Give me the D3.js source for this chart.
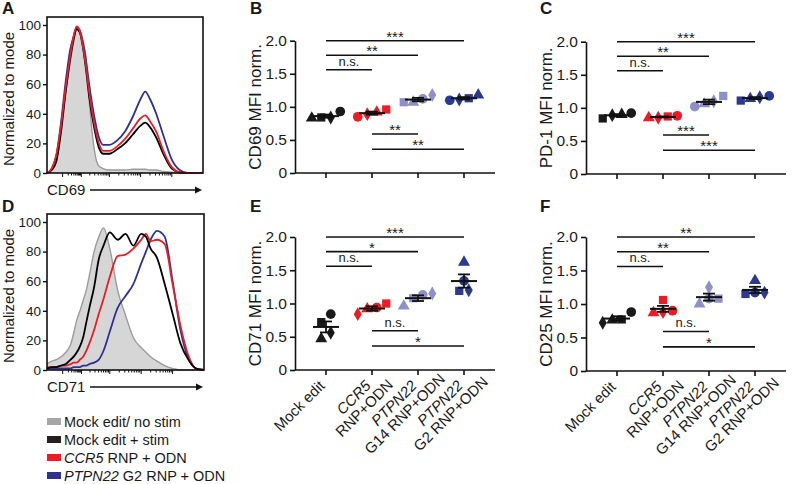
<!DOCTYPE html>
<html><head><meta charset="utf-8">
<script src="https://cdn.jsdelivr.net/npm/d3@7"></script>
<style>
body{margin:0;background:#fff}
text{font-family:"Liberation Sans",Arial,Helvetica,sans-serif;fill:#1a1a1a}
</style>
</head><body>
<svg id="c" width="800" height="484"></svg>
<script>
// ================= DATA =================
// Flow histograms (channel position 0-100, % of mode)
const histX = [0,3,6,9,12,15,17,19,21,23,25,27,30,33,36,40,45,50,55,60,63,66,70,75,80,85,90,95,100];
const cd69NoStim   = [0,2,8,30,55,76,88,98,97,90,78,50,18,5,3,2,2,2,2.5,2.5,2.5,2,2,1,0.5,0,0,0,0];
const cd69MockStim = [0,2,8,28,55,78,90,97,95,85,70,52,32,18,13,13,16,20,26,32,34,31,24,12,3,0.5,0,0,0];
const cd69CCR5     = [0,3,12,32,58,80,92,99,96,86,72,55,35,21,15,15,18,23,30,37,39,35,28,14,4,0.5,0,0,0];
const cd69PTPN22   = [0,3,12,34,62,84,92,98,96,88,76,60,40,25,19,19,22,28,38,50,55,50,40,24,9,2,0,0,0];
const cd71NoStim   = [4,6,7,9,12,17,25,34,40,47,54,64,80,90,96,82,54,37,22,15,12,9,6,3,1,0,0,0,0];
const cd71MockStim = [1,2,2,3,4,7,9,12,16,22,32,42,56,75,84,93,88,92,84,92,90,82,76,58,38,18,7,1,0];
const cd71CCR5     = [2,2,2,3,3,4,5,5,7,9,13,18,27,38,48,63,77,78,82,88,92,87,88,85,58,30,10,1,0];
const cd71PTPN22   = [1,1,1,1,1,1,2,2,2,3,3,4,5,7,13,26,42,50,58,72,80,88,94,90,60,27,8,1,0];
const logDecades = [10, 22, 40, 60, 80];

// Scatter panels: categories and per-donor values (donors: circle, square, triangle, diamond)
const categories = ["Mock edit", "CCR5 RNP+ODN", "PTPN22 G14 RNP+ODN", "PTPN22 G2 RNP+ODN"];
const catLines = [["Mock edit"], ["CCR5", "RNP+ODN"], ["PTPN22", "G14 RNP+ODN"], ["PTPN22", "G2 RNP+ODN"]];
const yTicks = [0, 0.5, 1.0, 1.5, 2.0];

const cd69Values = [[0.93,0.84,0.83,0.84],[0.85,0.96,0.92,0.89],[1.12,1.07,1.07,1.18],[1.10,1.13,1.18,1.11]];
const pd1Values  = [[0.92,0.84,0.90,0.89],[0.88,0.87,0.85,0.85],[1.02,1.18,1.06,1.10],[1.18,1.11,1.14,1.16]];
const cd71Values = [[0.84,0.72,0.47,0.56],[0.94,1.00,0.92,0.84],[1.13,1.08,0.96,1.15],[1.34,1.19,1.62,1.20]];
const cd25Values = [[0.88,0.77,0.76,0.72],[0.90,1.06,0.87,0.88],[1.08,1.08,1.00,1.25],[1.17,1.15,1.35,1.17]];

// significance brackets: [from, to, level, label]
const cd69Sig = [[0,3,2.0,"***"],[0,2,1.78,"**"],[0,1,1.56,"n.s."],[1,2,0.59,"**"],[1,3,0.36,"**"]];
const pd1Sig  = [[0,3,2.0,"***"],[0,2,1.78,"**"],[0,1,1.56,"n.s."],[1,2,0.59,"***"],[1,3,0.36,"***"]];
const cd71Sig = [[0,3,2.0,"***"],[0,2,1.78,"*"],[0,1,1.56,"n.s."],[1,2,0.59,"n.s."],[1,3,0.36,"*"]];
const cd25Sig = [[0,3,2.0,"**"],[0,2,1.78,"**"],[0,1,1.56,"n.s."],[1,2,0.59,"n.s."],[1,3,0.36,"*"]];

const legendItems = [
  {label: [["Mock edit/ no stim", false]], color: "#a6a6a6"},
  {label: [["Mock edit + stim", false]], color: "#231f20"},
  {label: [["CCR5", true], [" RNP + ODN", false]], color: "#ed1c24"},
  {label: [["PTPN22", true], [" G2 RNP + ODN", false]], color: "#2e3192"}
];

// ================= DRAW =================
const svg = d3.select("#c");
const groupColors = ["#1a1a1a", "#ed1c24", "#8e90c9", "#2b3990"];
const donorShapes = [d3.symbolCircle, d3.symbolSquare, d3.symbolTriangle, d3.symbolDiamond];
const donorSizes = [74, 68, 62, 56];

function letter(t, x, y) {
  svg.append("text").attr("x", x).attr("y", y).text(t)
    .style("font-weight", "bold").style("font-size", "17px");
}

function drawHist(box, series, marker) {
  const [x0, y0, x1, yTop100, yBottom] = box;
  const x = d3.scaleLinear().domain([0, 100]).range([x0, x1]);
  const y = d3.scaleLinear().domain([0, 100]).range([yBottom, yTop100]);
  const g = svg.append("g");
  series.forEach(s => {
    const pts = histX.map((u, i) => [u, s.values[i]]);
    if (s.fill) {
      g.append("path").datum(pts)
        .attr("d", d3.area().x(d => x(d[0])).y0(y(0)).y1(d => y(d[1])).curve(d3.curveMonotoneX))
        .attr("fill", "#d6d6d6");
    }
    g.append("path").datum(pts)
      .attr("d", d3.line().x(d => x(d[0])).y(d => y(d[1])).curve(d3.curveMonotoneX))
      .attr("fill", "none").attr("stroke", s.color).attr("stroke-width", s.fill ? 1.4 : 1.8);
  });
  g.append("rect").attr("x", x0).attr("y", y0).attr("width", x1 - x0).attr("height", yBottom - y0)
    .attr("fill", "none").attr("stroke", "#111").attr("stroke-width", 1.6);
  const ax = g.append("g").attr("transform", `translate(${x0},0)`)
    .call(d3.axisLeft(y).tickValues([0,20,40,60,80,100]).tickSize(4).tickSizeOuter(0).tickPadding(2));
  ax.select(".domain").remove();
  ax.selectAll("line").attr("stroke", "#111").attr("stroke-width", 1.4);
  ax.selectAll("text").style("font-size", "13.5px").style("font-family", "'Liberation Sans',Arial,sans-serif").attr("fill", "#1a1a1a");
  const ticks = [];
  logDecades.forEach((d, i) => {
    ticks.push([d, 4]);
    if (i < logDecades.length - 1) {
      const next = logDecades[i + 1];
      for (let k = 2; k < 10; k++) ticks.push([d + (next - d) * Math.log10(k), 2.5]);
    }
  });
  g.selectAll(".mt").data(ticks).join("line")
    .attr("x1", d => x(d[0])).attr("x2", d => x(d[0]))
    .attr("y1", yBottom).attr("y2", d => yBottom + d[1])
    .attr("stroke", "#111").attr("stroke-width", 1);
  g.append("text").attr("transform", `translate(${x0 - 33},${(yTop100 + yBottom) / 2}) rotate(-90)`)
    .attr("text-anchor", "middle").style("font-size", "15px").text("Normalized to mode");
  g.append("text").attr("x", x0).attr("y", yBottom + 22).style("font-size", "15px").text(marker);
  g.append("line").attr("x1", x0 + 43).attr("x2", x1 - 6).attr("y1", yBottom + 17).attr("y2", yBottom + 17)
    .attr("stroke", "#111").attr("stroke-width", 1.4);
  g.append("path").attr("d", d3.line()([[x1 - 8, yBottom + 13.5], [x1 - 1, yBottom + 17], [x1 - 8, yBottom + 20.5]]))
    .attr("fill", "#111");
}

function drawScatter(ox, oy, yTop, values, sig, title, showLabels) {
  const y = d3.scaleLinear().domain([0, 2]).range([oy, yTop]);
  const x = d3.scalePoint().domain(categories).range([ox + 31, ox + 169]);
  const g = svg.append("g");
  const ay = g.append("g").attr("transform", `translate(${ox},0)`)
    .call(d3.axisLeft(y).tickValues(yTicks).tickSize(5).tickSizeOuter(0).tickPadding(3)
      .tickFormat(d => d === 0 ? "0" : d3.format(".1f")(d)));
  ay.select(".domain").attr("stroke", "#111").attr("stroke-width", 1.6);
  ay.selectAll("line").attr("stroke", "#111").attr("stroke-width", 1.6);
  ay.selectAll("text").style("font-size", "15.5px").style("font-family", "'Liberation Sans',Arial,sans-serif").attr("fill", "#1a1a1a");
  g.append("line").attr("x1", ox).attr("x2", ox + 200).attr("y1", oy).attr("y2", oy)
    .attr("stroke", "#111").attr("stroke-width", 1.6);
  g.selectAll(".xt").data(categories).join("line")
    .attr("x1", d => x(d)).attr("x2", d => x(d)).attr("y1", oy).attr("y2", oy + 5)
    .attr("stroke", "#111").attr("stroke-width", 1.6);
  g.append("text").attr("transform", `translate(${ox - 34},${y(1)}) rotate(-90)`)
    .attr("text-anchor", "middle").style("font-size", "17px").text(title);
  sig.forEach(([a, b, lvl, lab]) => {
    g.append("line").attr("x1", x(categories[a])).attr("x2", x(categories[b]))
      .attr("y1", y(lvl)).attr("y2", y(lvl)).attr("stroke", "#111").attr("stroke-width", 1.6);
    g.append("text").attr("x", (x(categories[a]) + x(categories[b])) / 2)
      .attr("y", y(lvl) - (lab === "n.s." ? 4 : -1)).attr("text-anchor", "middle")
      .style("font-size", lab === "n.s." ? "13px" : "15px").text(lab);
  });
  values.forEach((vals, gi) => {
    const cx = x(categories[gi]);
    const pts = vals.map((v, di) => ({v, di, py: y(v)})).sort((a, b) => a.v - b.v);
    const clusters = [];
    pts.forEach(p => {
      const last = clusters[clusters.length - 1];
      if (last && Math.abs(last[last.length - 1].py - p.py) < 8) last.push(p); else clusters.push([p]);
    });
    clusters.forEach(cl => cl.forEach((p, i) => { p.px = cx + (i - (cl.length - 1) / 2) * 9.5; }));
    g.selectAll(null).data(pts).join("path")
      .attr("transform", p => `translate(${p.px},${p.py})`)
      .attr("d", p => d3.symbol().type(donorShapes[p.di]).size(donorSizes[p.di])())
      .attr("fill", groupColors[gi]);
    const m = d3.mean(vals), sem = d3.deviation(vals) / Math.sqrt(vals.length);
    g.append("line").attr("x1", cx - 13).attr("x2", cx + 13).attr("y1", y(m)).attr("y2", y(m))
      .attr("stroke", "#111").attr("stroke-width", 2);
    [m - sem, m + sem].forEach(v => g.append("line").attr("x1", cx - 6).attr("x2", cx + 6)
      .attr("y1", y(v)).attr("y2", y(v)).attr("stroke", "#111").attr("stroke-width", 1.8));
    g.append("line").attr("x1", cx).attr("x2", cx).attr("y1", y(m - sem)).attr("y2", y(m + sem))
      .attr("stroke", "#111").attr("stroke-width", 1.8);
  });
  if (showLabels) {
    categories.forEach((c, ci) => {
      const lines = catLines[ci];
      const lg = g.append("g").attr("transform", `translate(${x(c) - 4},${oy + 13}) rotate(-45)`);
      const lh = 15;
      const texts = lines.map((t, li) => lg.append("text")
        .attr("text-anchor", "middle").attr("dy", "0.35em")
        .style("font-size", "15px").style("font-style", (li === 0 && ci > 0) ? "italic" : "normal").text(t));
      const w1 = texts[0].node().getComputedTextLength();
      texts.forEach((t, li) => t.attr("x", -w1 / 2).attr("y", li * lh));
    });
  }
}

drawHist([47, 17, 203, 25, 173], [
  {values: cd69NoStim, color: "#9b9b9b", fill: true},
  {values: cd69PTPN22, color: "#2e3192"},
  {values: cd69MockStim, color: "#000"},
  {values: cd69CCR5, color: "#ed1c24"}
], "CD69");
drawHist([47, 214, 204, 222, 370], [
  {values: cd71NoStim, color: "#9b9b9b", fill: true},
  {values: cd71PTPN22, color: "#2e3192"},
  {values: cd71CCR5, color: "#ed1c24"},
  {values: cd71MockStim, color: "#000"}
], "CD71");

drawScatter(295, 173, 40.7, cd69Values, cd69Sig, "CD69 MFI norm.", false);
drawScatter(586, 174, 41.7, pd1Values, pd1Sig, "PD-1 MFI norm.", false);
drawScatter(295, 370, 237, cd71Values, cd71Sig, "CD71 MFI norm.", true);
drawScatter(586, 371, 237, cd25Values, cd25Sig, "CD25 MFI norm.", true);

letter("A", 2, 14); letter("B", 250, 14); letter("C", 540, 14);
letter("D", 2, 212); letter("E", 250, 212); letter("F", 540, 212);

const lgd = svg.append("g");
legendItems.forEach((it, i) => {
  const yy = 421.5 + i * 18;
  lgd.append("rect").attr("x", 47).attr("y", yy - 3.5).attr("width", 14).attr("height", 7).attr("fill", it.color);
  const t = lgd.append("text").attr("x", 64).attr("y", yy).attr("dy", "0.35em").style("font-size", "14.5px");
  it.label.forEach(([s, ital]) => t.append("tspan").style("font-style", ital ? "italic" : "normal").text(s));
});
</script>
</body></html>
